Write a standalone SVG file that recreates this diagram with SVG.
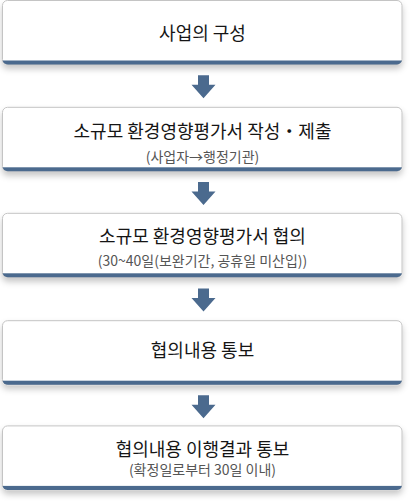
<svg xmlns="http://www.w3.org/2000/svg" xmlns:xlink="http://www.w3.org/1999/xlink" width="413" height="503" viewBox="0 0 413 503">
  <style>
    .title { font-family: "Noto Sans CJK KR", "Noto Sans", sans-serif; font-size: 18px; fill: #151515; text-anchor: middle; }
    .sub { font-family: "Noto Sans CJK KR", "Noto Sans", sans-serif; font-size: 14px; fill: #555555; text-anchor: middle; }
    .arrow { fill: #4b6a8e; }
  </style>
  <defs>
    <filter id="shadow" x="-5%" y="-20%" width="110%" height="150%">
      <feDropShadow dx="0" dy="4" stdDeviation="3" flood-color="#000" flood-opacity="0.22"/>
    </filter>
    <clipPath id="cardClip">
      <rect x="2.5" y="0.5" width="399.5" height="64" rx="5"/>
    </clipPath>
    <g id="card">
      <rect x="2.5" y="0.5" width="399.5" height="64" rx="5" fill="#ffffff" stroke="#c4c4c4" stroke-width="1" filter="url(#shadow)"/>
      <rect x="1" y="60.5" width="403" height="5" fill="#4b6a8e" clip-path="url(#cardClip)"/>
    </g>
    <path id="arr" d="M-5.5,0 H5.5 V9.5 H12 L0,23 L-12,9.5 H-5.5 Z"/>
  </defs>

  <g id="node1">
    <use xlink:href="#card" href="#card"/>
    <text class="title" x="202.5" y="39.5">사업의 구성</text>
  </g>
  <g id="node2">
    <use xlink:href="#card" href="#card" transform="translate(0,106.8)"/>
    <text class="title" x="202.5" y="137.5">소규모 환경영향평가서 작성・제출</text>
    <text class="sub" x="202.5" y="161.5">(사업자→행정기관)</text>
  </g>
  <g id="node3">
    <use xlink:href="#card" href="#card" transform="translate(0,212.8)"/>
    <text class="title" x="202.5" y="243">소규모 환경영향평가서 협의</text>
    <text class="sub" x="202.5" y="265.5">(30~40일(보완기간, 공휴일 미산입))</text>
  </g>
  <g id="node4">
    <use xlink:href="#card" href="#card" transform="translate(0,320.2)"/>
    <text class="title" x="202.5" y="356.5">협의내용 통보</text>
  </g>
  <g id="node5">
    <use xlink:href="#card" href="#card" transform="translate(0,425.4)"/>
    <text class="title" x="202.5" y="455.5">협의내용 이행결과 통보</text>
    <text class="sub" x="202.5" y="474.5">(확정일로부터 30일 이내)</text>
  </g>

  <g id="connectors" class="arrow">
    <use xlink:href="#arr" href="#arr" transform="translate(203.5,75.3)"/>
    <use xlink:href="#arr" href="#arr" transform="translate(203.5,182)"/>
    <use xlink:href="#arr" href="#arr" transform="translate(203.5,288.5)"/>
    <use xlink:href="#arr" href="#arr" transform="translate(203.5,395.3)"/>
  </g>
</svg>
